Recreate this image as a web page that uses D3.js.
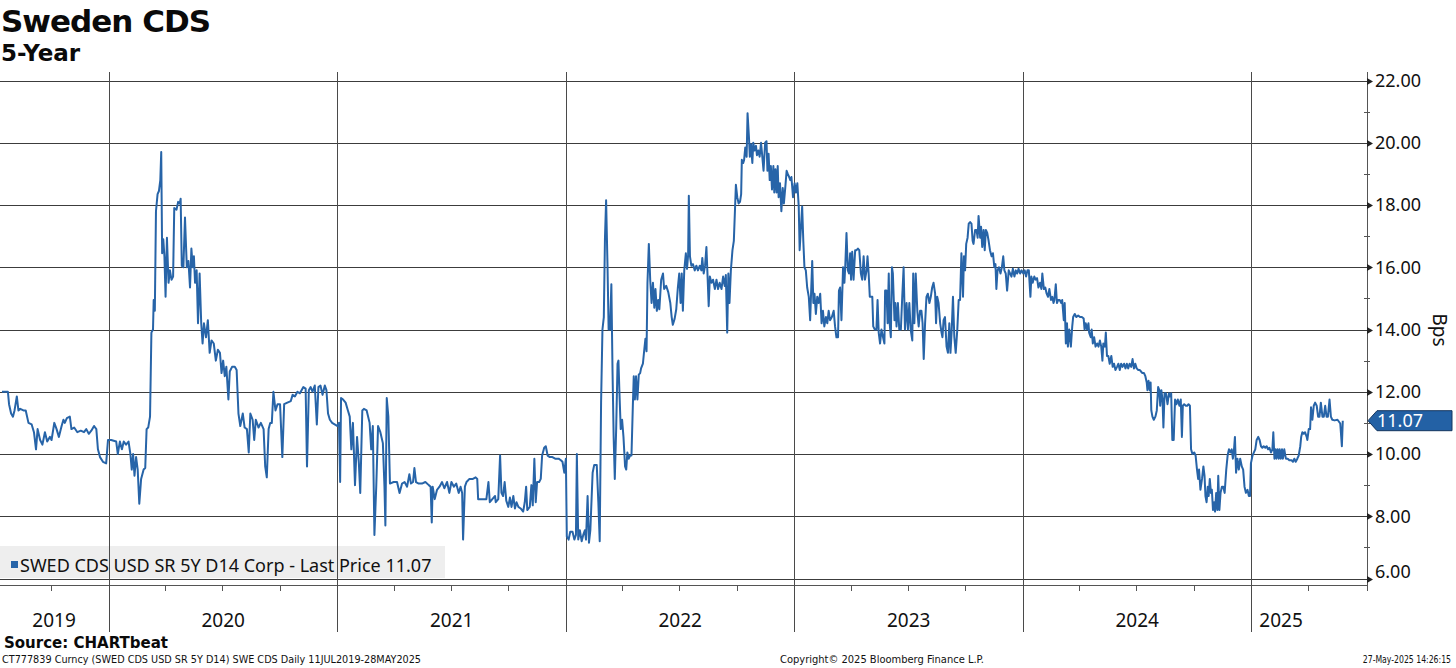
<!DOCTYPE html>
<html><head><meta charset="utf-8">
<script src="https://cdn.jsdelivr.net/npm/d3@7"></script>
<style>body{margin:0;background:#fff;} svg{display:block;}</style>
</head><body><svg id="chart" width="1456" height="668"></svg>
<script>
// ---------- data ----------
const titleText = "Sweden CDS";
const subtitleText = "5-Year";
const yMajorTicks = [6, 8, 10, 12, 14, 16, 18, 20, 22];
const yMinorTicks = [7, 9, 11, 13, 15, 17, 19, 21];
const yearLines = [2020, 2021, 2022, 2023, 2024, 2025];
const yearLabels = ["2019", "2020", "2021", "2022", "2023", "2024", "2025"];
const yearLabelAt = [2019.76, 2020.5, 2021.5, 2022.5, 2023.5, 2024.5, 2025.13];
const quarterTicks = [2019.748, 2020.247, 2020.496, 2020.748, 2021.247, 2021.496, 2021.748,
  2022.247, 2022.496, 2022.748, 2023.247, 2023.496, 2023.748, 2024.247, 2024.496, 2024.748, 2025.247];
const lastPrice = 11.07;
const legendLabel = "SWED CDS USD SR 5Y D14 Corp - Last Price 11.07";
const axisTitle = "Bps";
const sourceText = "Source: CHARTbeat";
const footLeft = "CT777839 Curncy (SWED CDS USD SR 5Y D14) SWE CDS  Daily 11JUL2019-28MAY2025";
const footMid = "Copyright\u00A9 2025 Bloomberg Finance L.P.";
const footRight = "27-May-2025 14:26:15";
// [decimal year, bps]
const cdsSeries = [
[2019.532,12.0],[2019.558,12.0],[2019.563,11.6],[2019.572,11.3],[2019.580,11.2],[2019.587,11.4],[2019.597,11.85],[2019.604,11.4],[2019.612,11.45],[2019.626,11.4],[2019.636,11.4],[2019.648,11.0],[2019.662,10.95],[2019.672,10.7],[2019.681,10.15],[2019.688,10.8],[2019.699,10.45],[2019.709,10.3],[2019.720,10.7],[2019.730,10.4],[2019.742,10.55],[2019.749,10.45],[2019.761,11.0],[2019.771,10.8],[2019.781,10.55],[2019.793,10.9],[2019.801,11.1],[2019.807,11.0],[2019.816,11.15],[2019.829,11.2],[2019.836,10.8],[2019.848,10.85],[2019.862,10.7],[2019.877,10.75],[2019.891,10.7],[2019.901,10.8],[2019.912,10.65],[2019.923,10.75],[2019.935,10.9],[2019.945,10.8],[2019.952,10.15],[2019.961,9.9],[2019.974,9.75],[2019.988,9.7],[2019.996,10.45],[2020.010,10.45],[2020.032,10.4],[2020.039,10.0],[2020.048,10.4],[2020.057,10.15],[2020.065,10.4],[2020.075,10.3],[2020.086,10.4],[2020.094,10.0],[2020.100,9.5],[2020.106,10.0],[2020.112,9.3],[2020.119,9.9],[2020.126,9.5],[2020.133,8.4],[2020.141,9.2],[2020.152,9.5],[2020.159,9.55],[2020.165,10.8],[2020.172,10.85],[2020.180,11.2],[2020.186,13.9],[2020.193,14.0],[2020.196,14.95],[2020.201,14.6],[2020.206,17.8],[2020.213,18.35],[2020.219,18.45],[2020.225,18.8],[2020.229,19.7],[2020.233,16.45],[2020.238,16.9],[2020.243,16.35],[2020.248,15.05],[2020.254,16.95],[2020.261,15.5],[2020.267,15.9],[2020.274,15.6],[2020.281,15.7],[2020.286,17.9],[2020.296,17.85],[2020.303,18.1],[2020.310,18.05],[2020.314,18.2],[2020.319,16.05],[2020.326,16.0],[2020.333,17.6],[2020.341,16.0],[2020.348,16.2],[2020.355,15.35],[2020.361,16.6],[2020.367,16.0],[2020.372,16.35],[2020.377,15.5],[2020.384,15.9],[2020.390,14.2],[2020.397,15.8],[2020.404,14.2],[2020.410,13.55],[2020.416,14.2],[2020.425,13.75],[2020.433,14.3],[2020.441,13.25],[2020.449,13.65],[2020.459,13.55],[2020.468,13.0],[2020.477,13.35],[2020.486,13.25],[2020.493,12.6],[2020.500,13.0],[2020.507,12.5],[2020.514,12.8],[2020.523,11.75],[2020.529,12.65],[2020.539,12.8],[2020.551,12.8],[2020.559,12.7],[2020.567,11.3],[2020.575,10.9],[2020.586,11.3],[2020.594,10.85],[2020.604,10.8],[2020.612,10.05],[2020.619,11.3],[2020.629,11.1],[2020.636,10.45],[2020.643,11.1],[2020.655,10.85],[2020.665,11.0],[2020.677,10.8],[2020.684,9.6],[2020.691,9.25],[2020.699,10.8],[2020.706,11.0],[2020.713,11.0],[2020.720,12.0],[2020.729,11.4],[2020.738,11.6],[2020.749,11.6],[2020.759,9.9],[2020.767,11.6],[2020.781,11.65],[2020.796,11.7],[2020.804,11.9],[2020.814,11.85],[2020.825,12.0],[2020.836,11.95],[2020.851,12.15],[2020.861,12.1],[2020.867,9.6],[2020.875,12.05],[2020.883,12.15],[2020.891,12.0],[2020.901,12.2],[2020.910,10.95],[2020.917,12.15],[2020.926,12.2],[2020.935,11.9],[2020.945,12.2],[2020.952,12.05],[2020.959,11.3],[2020.967,11.1],[2020.977,11.0],[2020.988,10.95],[2020.999,10.9],[2021.007,11.0],[2021.012,9.1],[2021.016,11.8],[2021.025,11.75],[2021.036,11.65],[2021.046,11.4],[2021.054,11.2],[2021.061,10.15],[2021.068,11.0],[2021.077,9.0],[2021.086,10.55],[2021.094,9.7],[2021.100,8.75],[2021.109,11.4],[2021.116,11.45],[2021.128,11.4],[2021.141,11.0],[2021.148,10.15],[2021.155,10.9],[2021.162,7.4],[2021.170,8.95],[2021.178,10.9],[2021.188,10.7],[2021.199,10.35],[2021.206,8.95],[2021.210,7.7],[2021.216,11.8],[2021.223,11.2],[2021.230,9.05],
[2021.246,9.1],[2021.261,9.1],[2021.272,8.75],[2021.283,9.05],[2021.294,9.1],[2021.305,8.95],[2021.315,9.35],[2021.322,9.05],[2021.331,9.1],[2021.337,9.55],[2021.344,9.1],[2021.356,9.05],[2021.370,9.05],[2021.385,9.1],[2021.400,9.0],[2021.408,8.95],[2021.413,7.8],[2021.417,8.95],[2021.426,8.55],[2021.436,8.85],[2021.447,8.95],[2021.458,9.1],[2021.468,8.9],[2021.480,9.1],[2021.490,8.75],[2021.499,9.1],[2021.510,8.95],[2021.520,9.05],[2021.531,8.75],[2021.539,8.95],[2021.546,8.75],[2021.550,7.25],[2021.558,8.95],[2021.565,9.1],[2021.578,9.2],[2021.593,9.2],[2021.605,9.25],[2021.612,9.2],[2021.616,8.55],[2021.634,8.55],[2021.652,8.55],[2021.661,9.1],[2021.667,8.45],[2021.678,8.55],[2021.690,8.65],[2021.693,8.45],[2021.704,8.55],[2021.712,9.95],[2021.718,8.75],[2021.725,8.65],[2021.732,9.1],[2021.739,8.5],[2021.748,8.3],[2021.755,8.6],[2021.762,8.3],[2021.770,8.65],[2021.777,8.25],[2021.784,8.45],[2021.792,8.3],[2021.802,8.25],[2021.813,8.15],[2021.820,8.45],[2021.826,8.95],[2021.831,8.2],[2021.842,8.3],[2021.849,9.0],[2021.855,8.35],[2021.862,9.85],[2021.868,8.45],[2021.874,9.1],[2021.883,9.1],[2021.890,9.2],[2021.896,9.95],[2021.905,10.2],[2021.912,10.25],[2021.920,9.95],[2021.930,9.9],[2021.941,9.9],[2021.953,9.85],[2021.968,9.85],[2021.978,9.8],[2021.985,9.75],[2021.993,9.4],[2022.000,9.85],[2022.004,7.35],[2022.012,7.25],[2022.019,7.5],[2022.029,7.5],[2022.037,7.25],[2022.044,7.4],[2022.048,10.0],[2022.054,7.25],[2022.061,7.55],[2022.069,7.2],[2022.076,7.4],[2022.083,7.55],[2022.088,7.25],[2022.095,8.65],[2022.101,7.15],[2022.107,7.55],[2022.117,9.4],[2022.124,9.65],[2022.135,9.65],[2022.142,8.45],[2022.148,7.2],[2022.154,11.65],[2022.160,14.0],[2022.166,14.4],[2022.171,16.95],[2022.176,18.15],[2022.182,16.1],[2022.187,14.0],[2022.193,14.0],[2022.199,15.45],[2022.204,12.7],[2022.209,10.55],[2022.214,9.2],[2022.220,10.8],[2022.226,12.9],[2022.230,13.0],[2022.234,12.05],[2022.240,10.8],[2022.246,11.1],[2022.252,10.55],[2022.259,9.6],[2022.264,9.5],[2022.269,10.05],[2022.275,9.85],[2022.281,9.95],[2022.287,9.95],[2022.293,11.55],[2022.297,12.5],[2022.302,11.75],[2022.307,12.5],[2022.313,11.75],[2022.319,12.55],[2022.325,12.6],[2022.329,12.75],[2022.337,12.9],[2022.343,13.35],[2022.348,13.7],[2022.353,13.3],[2022.357,15.5],[2022.363,16.75],[2022.369,15.6],[2022.375,14.85],[2022.381,15.5],[2022.387,14.7],[2022.392,15.3],[2022.398,14.6],[2022.404,14.95],[2022.409,14.65],[2022.417,15.6],[2022.425,15.8],[2022.430,15.3],[2022.439,15.4],[2022.448,15.2],[2022.457,14.85],[2022.463,14.4],[2022.468,14.15],[2022.476,14.35],[2022.483,14.65],[2022.490,15.35],[2022.496,15.8],[2022.502,14.85],[2022.507,15.8],[2022.512,14.6],[2022.518,15.9],[2022.525,16.45],[2022.530,15.95],[2022.535,16.4],[2022.538,18.3],[2022.543,16.35],[2022.549,16.05],[2022.556,16.1],[2022.564,15.9],[2022.571,16.05],[2022.578,15.9],[2022.586,16.05],[2022.593,15.9],[2022.597,16.3],[2022.603,15.8],[2022.609,16.05],[2022.615,16.65],[2022.619,15.9],[2022.625,14.75],[2022.630,15.7],[2022.637,15.5],[2022.644,15.6],[2022.652,15.3],[2022.659,15.6],[2022.666,15.3],[2022.673,15.5],[2022.681,15.3],[2022.688,15.7],[2022.695,15.4],[2022.700,15.75],[2022.706,13.9],[2022.711,15.8],[2022.716,14.85],[2022.722,15.9],[2022.729,16.55],[2022.735,16.85],[2022.740,17.85],[2022.744,18.65],[2022.750,18.25],[2022.756,18.05],[2022.762,18.1],[2022.767,18.35],[2022.770,19.45],[2022.776,19.35],[2022.780,19.45],[2022.785,19.85],[2022.791,19.55],[2022.795,20.95],[2022.801,20.2],[2022.805,19.55],[2022.810,19.95],[2022.816,19.35],[2022.820,20.0],[2022.826,19.75],[2022.832,19.9],[2022.836,19.6],[2022.842,19.75],[2022.848,19.55],[2022.854,20.0],[2022.859,19.6],[2022.865,19.1],[2022.872,20.0],[2022.878,20.05],[2022.882,19.1],[2022.887,19.65],[2022.892,18.8],[2022.897,19.25],[2022.902,18.5],[2022.908,19.25],[2022.912,18.4],[2022.917,19.15],[2022.922,18.4],[2022.927,19.25],[2022.931,18.25],[2022.937,18.7],[2022.943,17.8],[2022.949,18.55],[2022.954,18.05],[2022.960,18.55],[2022.966,19.1],[2022.971,19.0],[2022.977,18.9],[2022.982,18.8],[2022.987,18.9],[2022.994,18.25],[2023.001,18.7],[2023.007,18.4],[2023.013,18.7],[2023.019,17.95],
[2023.023,16.55],[2023.028,17.2],[2023.034,17.95],[2023.039,16.85],[2023.044,16.0],[2023.050,15.9],[2023.056,15.35],[2023.063,15.05],[2023.069,14.3],[2023.073,15.15],[2023.078,16.2],[2023.083,14.85],[2023.088,15.15],[2023.094,14.5],[2023.100,15.05],[2023.106,14.85],[2023.113,15.15],[2023.119,14.2],[2023.125,14.6],[2023.131,14.1],[2023.138,14.4],[2023.144,14.2],[2023.150,14.6],[2023.156,14.3],[2023.164,14.4],[2023.172,14.6],[2023.178,14.1],[2023.184,13.75],[2023.191,13.75],[2023.195,15.25],[2023.200,15.35],[2023.206,14.3],[2023.213,16.0],[2023.219,15.5],[2023.223,16.1],[2023.228,17.1],[2023.234,15.9],[2023.239,15.8],[2023.244,16.45],[2023.248,15.6],[2023.253,16.5],[2023.259,15.6],[2023.266,16.55],[2023.272,16.55],[2023.278,16.6],[2023.284,16.55],[2023.291,15.8],[2023.297,15.6],[2023.303,16.35],[2023.309,15.6],[2023.316,15.9],[2023.320,16.35],[2023.325,15.8],[2023.330,15.05],[2023.336,15.05],[2023.341,15.05],[2023.345,14.1],[2023.352,14.0],[2023.359,14.0],[2023.364,14.95],[2023.369,13.9],[2023.375,13.55],[2023.381,14.0],[2023.388,13.75],[2023.394,13.55],[2023.397,15.25],[2023.403,15.25],[2023.408,14.2],[2023.413,15.8],[2023.417,14.2],[2023.422,13.75],[2023.427,16.0],[2023.431,15.8],[2023.438,14.3],[2023.442,14.85],[2023.447,14.1],[2023.453,14.85],[2023.459,14.0],[2023.466,14.0],[2023.472,15.05],[2023.478,16.0],[2023.484,14.0],[2023.491,14.85],[2023.497,14.0],[2023.503,14.85],[2023.509,14.0],[2023.516,13.65],[2023.520,15.8],[2023.525,14.2],[2023.531,15.8],[2023.538,14.6],[2023.544,14.1],[2023.550,14.6],[2023.556,14.6],[2023.561,14.2],[2023.566,13.05],[2023.572,14.2],[2023.578,15.05],[2023.584,15.15],[2023.591,14.85],[2023.597,15.05],[2023.603,15.35],[2023.609,15.5],[2023.616,15.15],[2023.620,14.2],[2023.625,15.05],[2023.631,14.85],[2023.638,14.2],[2023.644,13.9],[2023.648,13.75],[2023.653,14.3],[2023.659,14.4],[2023.666,13.45],[2023.672,13.25],[2023.678,14.2],[2023.683,13.25],[2023.688,13.9],[2023.694,15.05],[2023.700,13.75],[2023.706,13.25],[2023.713,14.0],[2023.719,14.95],[2023.725,14.95],[2023.731,16.45],[2023.738,15.05],[2023.742,16.35],[2023.747,15.9],[2023.752,16.75],[2023.758,16.95],[2023.763,17.4],[2023.769,17.45],[2023.775,17.4],[2023.780,16.85],[2023.784,16.75],[2023.791,17.2],[2023.797,17.2],[2023.802,16.95],[2023.806,17.65],[2023.813,16.95],[2023.817,17.3],[2023.822,16.65],[2023.828,17.2],[2023.833,16.55],[2023.838,17.2],[2023.844,17.1],[2023.850,16.85],[2023.856,16.55],[2023.863,16.35],[2023.869,16.45],[2023.875,16.0],[2023.880,16.1],[2023.884,15.3],[2023.889,15.9],[2023.895,16.0],[2023.902,15.8],[2023.908,16.0],[2023.914,16.35],[2023.919,15.9],[2023.925,15.8],[2023.931,15.25],[2023.938,15.9],[2023.944,15.8],[2023.950,15.7],[2023.956,15.95],[2023.963,15.7],[2023.969,15.9],[2023.975,15.8],[2023.981,15.95],[2023.988,15.8],[2023.994,15.9],
[2024.002,15.8],[2024.008,15.9],[2024.014,15.7],[2024.020,15.9],[2024.026,15.9],[2024.033,15.05],[2024.037,15.7],[2024.043,15.5],[2024.050,15.7],[2024.056,15.6],[2024.062,15.65],[2024.068,15.35],[2024.075,15.5],[2024.081,15.3],[2024.085,15.8],[2024.092,15.3],[2024.098,15.35],[2024.104,15.15],[2024.110,15.05],[2024.116,15.3],[2024.123,14.95],[2024.129,15.05],[2024.134,14.85],[2024.138,14.95],[2024.144,15.45],[2024.149,14.85],[2024.155,14.95],[2024.161,14.95],[2024.168,14.85],[2024.172,14.95],[2024.179,14.3],[2024.183,14.85],[2024.188,13.55],[2024.193,14.2],[2024.197,13.45],[2024.203,14.0],[2024.210,13.45],[2024.216,14.1],[2024.220,14.4],[2024.227,14.5],[2024.234,14.4],[2024.242,14.45],[2024.250,14.4],[2024.258,14.4],[2024.266,14.35],[2024.270,14.0],[2024.275,14.2],[2024.281,14.0],[2024.287,14.2],[2024.290,13.9],[2024.297,13.75],[2024.301,14.0],[2024.306,13.55],[2024.312,13.75],[2024.318,13.45],[2024.325,13.55],[2024.331,13.45],[2024.337,13.65],[2024.343,13.45],[2024.348,13.0],[2024.352,13.55],[2024.359,13.45],[2024.363,13.9],[2024.368,13.15],[2024.374,13.15],[2024.380,12.9],[2024.387,13.15],[2024.393,12.8],[2024.399,12.9],[2024.405,12.7],[2024.412,12.8],[2024.418,12.9],[2024.424,12.7],[2024.430,12.9],[2024.436,12.8],[2024.443,12.9],[2024.449,12.75],[2024.455,12.9],[2024.461,12.75],[2024.467,12.9],[2024.474,12.8],[2024.480,13.05],[2024.486,12.75],[2024.492,12.9],[2024.498,12.75],[2024.505,12.7],[2024.511,12.7],[2024.517,12.65],[2024.523,12.6],[2024.530,12.6],[2024.536,12.5],[2024.542,12.3],[2024.545,12.05],[2024.550,12.35],[2024.555,12.05],[2024.559,12.3],[2024.562,11.4],[2024.567,11.2],[2024.573,11.1],[2024.580,11.2],[2024.586,11.4],[2024.592,12.15],[2024.597,12.05],[2024.601,11.55],[2024.606,12.05],[2024.611,11.75],[2024.615,10.85],[2024.620,11.95],[2024.626,11.95],[2024.633,11.6],[2024.639,11.95],[2024.643,11.85],[2024.649,11.95],[2024.654,10.45],[2024.660,10.45],[2024.666,11.75],[2024.672,11.6],[2024.678,11.75],[2024.685,11.55],[2024.691,11.75],[2024.696,10.55],[2024.700,11.55],[2024.706,11.6],[2024.713,11.55],[2024.719,11.55],[2024.725,11.6],[2024.731,11.55],[2024.736,10.15],[2024.742,10.0],[2024.750,10.05],[2024.756,9.95],[2024.762,9.5],[2024.767,9.2],[2024.771,9.5],[2024.777,8.85],[2024.784,9.2],[2024.790,9.6],[2024.795,9.3],[2024.799,8.65],[2024.804,8.45],[2024.809,8.95],[2024.813,8.65],[2024.818,9.2],[2024.823,8.75],[2024.827,8.85],[2024.832,8.2],[2024.837,8.45],[2024.841,8.15],[2024.846,8.75],[2024.851,8.2],[2024.855,9.3],[2024.860,8.2],[2024.865,8.75],[2024.871,8.95],[2024.877,8.95],[2024.883,8.75],[2024.890,9.5],[2024.896,9.95],[2024.902,10.15],[2024.908,10.05],[2024.914,10.15],[2024.919,9.85],[2024.923,10.05],[2024.928,10.55],[2024.933,9.4],[2024.939,9.85],[2024.945,9.5],[2024.951,9.85],[2024.958,9.6],[2024.964,9.5],[2024.970,8.95],[2024.976,8.75],[2024.983,8.85],[2024.989,8.65],[2024.994,8.65],[2024.998,9.7],
[2025.005,9.95],[2025.011,10.05],[2025.017,10.15],[2025.023,10.45],[2025.030,10.55],[2025.036,10.45],[2025.042,10.25],[2025.048,10.2],[2025.054,10.25],[2025.061,10.2],[2025.067,10.25],[2025.073,10.15],[2025.079,10.2],[2025.086,10.05],[2025.092,10.15],[2025.096,10.7],[2025.101,9.85],[2025.106,10.15],[2025.110,9.85],[2025.115,10.15],[2025.120,9.85],[2025.124,10.15],[2025.129,9.85],[2025.134,10.15],[2025.138,9.85],[2025.144,10.15],[2025.151,9.85],[2025.159,9.85],[2025.166,9.8],[2025.176,9.8],[2025.182,9.75],[2025.188,9.85],[2025.194,9.75],[2025.201,9.85],[2025.207,9.95],[2025.214,10.25],[2025.218,10.55],[2025.223,10.7],[2025.229,10.65],[2025.235,10.7],[2025.242,10.55],[2025.245,10.45],[2025.251,10.8],[2025.257,10.8],[2025.261,11.5],[2025.267,11.1],[2025.273,11.55],[2025.279,11.65],[2025.286,11.55],[2025.292,11.2],[2025.298,11.2],[2025.304,11.65],[2025.311,11.2],[2025.317,11.2],[2025.323,11.55],[2025.329,11.2],[2025.335,11.2],[2025.342,11.75],[2025.348,11.2],[2025.354,11.1],[2025.364,11.08],[2025.377,11.1],[2025.389,10.98],[2025.396,10.25],[2025.400,11.07]
];

// ---------- drawing ----------
const svg = d3.select("#chart");
const W = 1456, H = 668;
const axisX = 1367, plotTop = 72;
const x = d3.scaleLinear().domain([2019.5234, 2025.506]).range([0, axisX]);
const y = d3.scaleLinear().domain([6, 22]).range([578.5, 80.5]);
const blue = "#2764a8";
const gridCol = "#3c3c3c";
const numFont = "'Noto Sans', 'Open Sans', sans-serif";
const condFont = "'DejaVu Sans Condensed', 'DejaVu Sans', sans-serif";
const titleFont = "'DejaVu Sans', sans-serif";

svg.append("rect").attr("width", W).attr("height", H).attr("fill", "#fff");

// title
svg.append("text").attr("x", 1).attr("y", 32).text(titleText)
  .attr("font-family", titleFont).attr("font-weight", "bold").attr("font-size", 31).attr("fill", "#0a0a0a")
  .attr("textLength", 210).attr("lengthAdjust", "spacing");
svg.append("text").attr("x", 1).attr("y", 61).text(subtitleText)
  .attr("font-family", titleFont).attr("font-weight", "bold").attr("font-size", 23).attr("fill", "#0a0a0a");

// horizontal gridlines
svg.append("g").selectAll("line").data(yMajorTicks).join("line")
  .attr("x1", 0).attr("x2", axisX)
  .attr("y1", d => Math.round(y(d)) + 0.5).attr("y2", d => Math.round(y(d)) + 0.5)
  .attr("stroke", gridCol).attr("stroke-width", 1);

// x axis baseline (second line under the 6.00 line)
svg.append("line").attr("x1", 0).attr("x2", axisX).attr("y1", 585.5).attr("y2", 585.5)
  .attr("stroke", "#555").attr("stroke-width", 1);
svg.append("g").selectAll("line").data(quarterTicks).join("line")
  .attr("x1", d => Math.round(x(d)) + 0.5).attr("x2", d => Math.round(x(d)) + 0.5)
  .attr("y1", 585.5).attr("y2", 591).attr("stroke", "#555");

// legend box
svg.append("rect").attr("x", 0).attr("y", 546).attr("width", 445).attr("height", 32).attr("fill", "#eeeeee");

// vertical year lines
svg.append("g").selectAll("line").data(yearLines).join("line")
  .attr("x1", d => Math.round(x(d)) + 0.5).attr("x2", d => Math.round(x(d)) + 0.5)
  .attr("y1", plotTop).attr("y2", 632).attr("stroke", "#4a4a4a").attr("stroke-width", 1);

// data line
const line = d3.line().x(d => x(d[0])).y(d => y(d[1]));
svg.append("path").datum(cdsSeries).attr("d", line)
  .attr("fill", "none").attr("stroke", blue).attr("stroke-width", 2).attr("stroke-linejoin", "round");

// legend text
svg.append("rect").attr("x", 11).attr("y", 561).attr("width", 7).attr("height", 7).attr("fill", blue);
svg.append("text").attr("x", 20).attr("y", 572).text(legendLabel)
  .attr("font-family", numFont).attr("font-size", 18).attr("fill", "#111");

// right axis
svg.append("line").attr("x1", axisX + 0.5).attr("x2", axisX + 0.5).attr("y1", plotTop).attr("y2", 591)
  .attr("stroke", "#555");
svg.append("g").selectAll("line").data(yMinorTicks).join("line")
  .attr("x1", axisX - 3).attr("x2", axisX + 3)
  .attr("y1", d => Math.round(y(d)) + 0.5).attr("y2", d => Math.round(y(d)) + 0.5).attr("stroke", "#555");
svg.append("g").selectAll("path").data(yMajorTicks).join("path")
  .attr("d", d => { const yy = Math.round(y(d)) + 0.5; return `M${axisX},${yy - 3.5}L${axisX + 6},${yy}L${axisX},${yy + 3.5}Z`; })
  .attr("fill", "#222");
const yAxis = d3.axisRight(y).tickValues(yMajorTicks).tickFormat(d3.format(".2f")).tickSize(0).tickPadding(0);
const gAx = svg.append("g").attr("transform", `translate(${axisX + 8},0)`).call(yAxis);
gAx.select(".domain").remove();
gAx.selectAll("text").attr("font-family", numFont).attr("font-size", 18).attr("fill", "#111")
  .attr("dy", d => d === 6 ? "-0.05em" : "0.32em");

// axis title
svg.append("text").attr("transform", "translate(1433,330) rotate(90)").attr("text-anchor", "middle")
  .attr("font-family", numFont).attr("font-size", 19).attr("fill", "#111").text(axisTitle);

// last price tag
const ty = y(lastPrice);
svg.append("path")
  .attr("d", `M${axisX + 1},${ty} L${axisX + 10},${ty - 10} L1452,${ty - 10} L1452,${ty + 10} L${axisX + 10},${ty + 10} Z`)
  .attr("fill", "#2361a5").attr("stroke", "#14365f").attr("stroke-width", 1);
svg.append("text").attr("x", 1377).attr("y", ty).attr("dy", "0.35em").text(d3.format(".2f")(lastPrice))
  .attr("font-family", numFont).attr("font-size", 18).attr("fill", "#fff");

// year labels
svg.append("g").selectAll("text").data(yearLabels).join("text")
  .attr("x", (d, i) => x(yearLabelAt[i])).attr("y", 627).attr("text-anchor", "middle")
  .attr("font-family", numFont).attr("font-size", 19).attr("fill", "#111").text(d => d);

// footer
svg.append("text").attr("x", 4).attr("y", 648).text(sourceText)
  .attr("font-family", condFont).attr("font-weight", "bold").attr("font-size", 15).attr("fill", "#0a0a0a")
  .attr("textLength", 164).attr("lengthAdjust", "spacingAndGlyphs");
svg.append("text").attr("x", 2).attr("y", 663).text(footLeft)
  .attr("font-family", condFont).attr("font-size", 10.5).attr("fill", "#111")
  .attr("textLength", 419).attr("lengthAdjust", "spacingAndGlyphs");
svg.append("text").attr("x", 780).attr("y", 663).text(footMid)
  .attr("font-family", condFont).attr("font-size", 10.5).attr("fill", "#111")
  .attr("textLength", 204).attr("lengthAdjust", "spacingAndGlyphs");
svg.append("text").attr("transform", "translate(1451,663) scale(0.82,1)").attr("text-anchor", "end").text(footRight)
  .attr("font-family", condFont).attr("font-size", 10.5).attr("fill", "#111");
</script>
</body></html>
